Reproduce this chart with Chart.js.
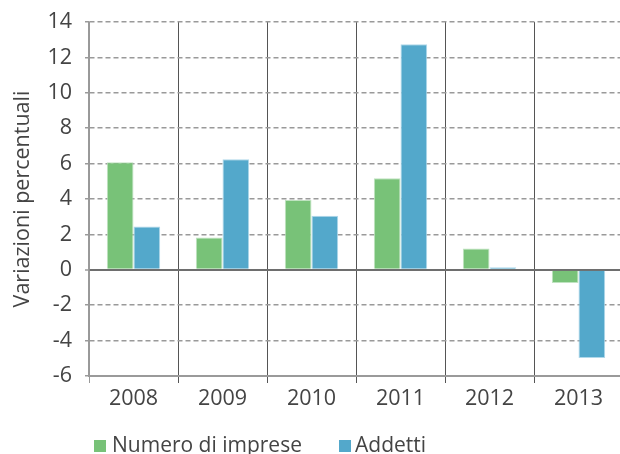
<!DOCTYPE html>
<html>
<head>
<meta charset="utf-8">
<script src="https://cdn.jsdelivr.net/npm/chart.js@4/dist/chart.umd.min.js"></script>
<style>
  html, body { margin: 0; padding: 0; background: #fff; overflow: hidden; }
  #wrap { position: relative; width: 620px; height: 454px; overflow: hidden; }
  #box { position: absolute; left: 0; top: 0; width: 623px; height: 454px; }
  .lg { position: absolute; font-family: "Open Sans", sans-serif; font-size: 21px; line-height: 24px; color: #444; white-space: nowrap; }
  .sq { position: absolute; width: 12px; height: 12px; }
</style>
</head>
<body>
<div id="wrap">
  <div id="box"><canvas id="c"></canvas></div>
  <div class="sq" id="sq0" style="left:94px; top:440px;"></div>
  <div class="lg" id="lg0" style="left:112px; top:432px;"></div>
  <div class="sq" id="sq1" style="left:339px; top:440px;"></div>
  <div class="lg" id="lg1" style="left:355px; top:432px;"></div>
</div>
<script>
const categories = ["2008", "2009", "2010", "2011", "2012", "2013"];
const seriesNames = ["Numero di imprese", "Addetti"];
const imprese = [6.08, 1.82, 3.95, 5.17, 1.2, -0.75];
const addetti = [2.44, 6.24, 3.05, 12.74, 0.14, -4.98];
const yTitle = "Variazioni percentuali";
const yMin = -6, yMax = 14, yStep = 2;

const colors = ["#78c278", "#53a8cb"];
const borders = ["#bfe3c0", "#b0d8ea"];

document.getElementById("sq0").style.background = colors[0];
document.getElementById("sq1").style.background = colors[1];
document.getElementById("lg0").textContent = seriesNames[0];
document.getElementById("lg1").textContent = seriesNames[1];

const font = { family: "'Open Sans', sans-serif", size: 21.5 };

new Chart(document.getElementById("c"), {
  type: "bar",
  data: {
    labels: categories,
    datasets: [
      { label: seriesNames[0], data: imprese, backgroundColor: colors[0], borderColor: borders[0], borderWidth: 1 },
      { label: seriesNames[1], data: addetti, backgroundColor: colors[1], borderColor: borders[1], borderWidth: 1 }
    ]
  },
  options: {
    responsive: true,
    maintainAspectRatio: false,
    animation: false,
    layout: { padding: { top: 22, left: 0, right: 0, bottom: 34 } },
    datasets: { bar: { categoryPercentage: 0.6, barPercentage: 1.0 } },
    plugins: { legend: { display: false }, tooltip: { enabled: false } },
    scales: {
      x: {
        grid: {
          offset: true,
          color: (ctx) => ctx.index === 0 ? "#999" : "#555",
          lineWidth: 1,
          tickLength: 7
        },
        border: { color: "#9a9a9a", width: 2 },
        ticks: { color: "#444", font: font, padding: 3 },
        afterFit: (s) => { s.height = 44; }
      },
      y: {
        min: yMin, max: yMax,
        ticks: { stepSize: yStep, color: "#444", font: font, padding: 13 },
        grid: {
          color: (ctx) => (ctx.tick && ctx.tick.value === 0) ? "#6e6e6e" : "#9a9a9a",
          lineWidth: (ctx) => (ctx.tick && ctx.tick.value === 0) ? 2 : 1.5,
          tickLength: 4,
          tickColor: "#9a9a9a",
          tickWidth: 1.5
        },
        border: {
          color: "#9a9a9a", width: 1.5,
          dash: (ctx) => (ctx.tick && ctx.tick.value === 0) ? [] : [5, 3]
        },
        title: { display: true, text: yTitle, color: "#444", font: font, padding: { top: 10, bottom: 0 } },
        afterFit: (s) => { s.width = 89; s.paddingTop = 0; s.paddingBottom = 0; }
      }
    }
  }
});
</script>
</body>
</html>
